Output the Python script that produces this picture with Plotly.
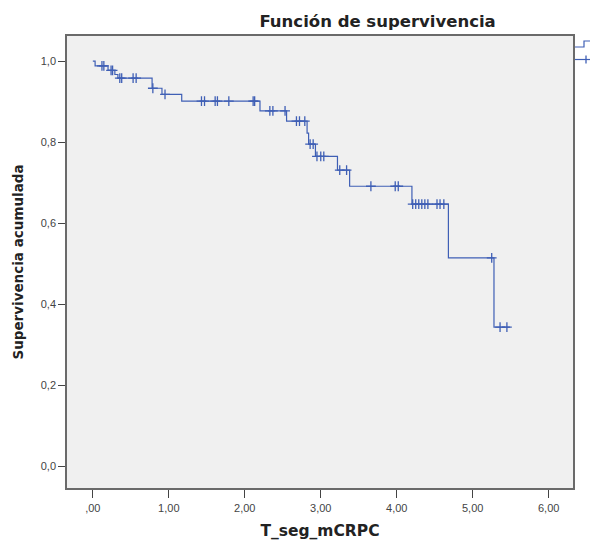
import numpy as np
import plotly.graph_objects as go

# Kaplan-Meier steps (time of event, survival after event)
event_times = [0.03, 0.20, 0.29, 0.33, 0.78, 0.91, 1.17, 2.20, 2.55, 2.82, 2.84,
               2.93, 3.22, 3.38, 4.20, 4.68, 5.28]
surv_values = [0.988, 0.977, 0.967, 0.958, 0.933, 0.918, 0.901, 0.877, 0.852, 0.822,
               0.795, 0.765, 0.731, 0.691, 0.647, 0.514, 0.343]
censor_times = [0.12, 0.145, 0.24, 0.26, 0.355, 0.38, 0.53, 0.57, 0.79, 0.95,
                1.43, 1.47, 1.61, 1.64, 1.79, 2.11, 2.13, 2.33, 2.37, 2.53,
                2.68, 2.72, 2.79, 2.86, 2.90, 2.95, 3.00, 3.04, 3.25, 3.34,
                3.66, 3.98, 4.02, 4.21, 4.25, 4.29, 4.33, 4.37, 4.41, 4.53,
                4.57, 4.62, 5.25, 5.36, 5.45]
end_time = 5.49

x_ticks = [0, 1, 2, 3, 4, 5, 6]
x_tick_labels = [",00", "1,00", "2,00", "3,00", "4,00", "5,00", "6,00"]
y_ticks = [0.0, 0.2, 0.4, 0.6, 0.8, 1.0]
y_tick_labels = ["0,0", "0,2", "0,4", "0,6", "0,8", "1,0"]

blue = "#3f5fb5"

step_x = [0.0] + event_times + [end_time]
step_y = [1.0] + surv_values + [surv_values[-1]]

ev = np.array(event_times)
sv = np.array([1.0] + surv_values)
cens_y = [sv[np.searchsorted(ev, t, side="right")] for t in censor_times]

marker_style = dict(symbol="cross-thin", size=7, line=dict(color=blue, width=1.3))

fig = go.Figure()
fig.add_trace(go.Scatter(
    x=step_x, y=step_y, mode="lines", line=dict(color=blue, width=1.2, shape="hv"),
    name="Función de supervivencia"))
fig.add_trace(go.Scatter(
    x=censor_times, y=cens_y, mode="markers", marker=marker_style,
    name="Censurado"))

# Legend keys (the legend itself lies beyond the right edge of the picture)
W, H = 590, 540
ML, MR, MT, MB = 67, 17, 36, 52
pw, ph = W - ML - MR, H - MT - MB


def px(x):
    return (x - ML) / pw


def py(y):
    return 1 - (y - MT) / ph


fig.add_shape(type="path", xref="paper", yref="paper",
              path=f"M {px(575)},{py(47)} L {px(584)},{py(47)} L {px(584)},{py(41)} L {px(592)},{py(41)}",
              line=dict(color=blue, width=1.2))
fig.add_shape(type="line", xref="paper", yref="paper",
              x0=px(575), x1=px(592), y0=py(59.5), y1=py(59.5),
              line=dict(color=blue, width=1.2))
fig.add_shape(type="line", xref="paper", yref="paper",
              x0=px(586), x1=px(586), y0=py(55.5), y1=py(63.5),
              line=dict(color=blue, width=1.3))

title_font = "DejaVu Sans, Verdana, sans-serif"
axis_font = dict(family="Liberation Sans, Arial, sans-serif", size=11, color="#444444")

fig.update_layout(
    width=W, height=H,
    margin=dict(l=ML, r=MR, t=MT, b=MB),
    paper_bgcolor="white",
    plot_bgcolor="#f0f0f0",
    showlegend=False,
    title=dict(text="<b>Función de supervivencia</b>", x=0.64, xanchor="center",
               y=0.96, yanchor="middle",
               font=dict(family=title_font, size=16.5, color="#222222")),
    xaxis=dict(range=[-0.34, 6.32], tickvals=x_ticks, ticktext=x_tick_labels,
               automargin=False,
               showgrid=False, zeroline=False, showline=True, mirror=True,
               linecolor="#6a6a6a", linewidth=1.5, ticks="outside", ticklen=8,
               tickcolor="#444444", tickfont=axis_font, ticklabelstandoff=1,
               title=dict(text="<b>T_seg_mCRPC</b>", standoff=16,
                          font=dict(family=title_font, size=15.5, color="#222222"))),
    yaxis=dict(range=[-0.054, 1.062], tickvals=y_ticks, ticktext=y_tick_labels,
               automargin=False,
               showgrid=False, zeroline=False, showline=True, mirror=True,
               linecolor="#6a6a6a", linewidth=1.5, ticks="outside", ticklen=7,
               tickcolor="#444444", tickfont=axis_font,
               title=dict(text="<b>Supervivencia acumulada</b>", standoff=14,
                          font=dict(family=title_font, size=13.5, color="#222222"))),
)

fig.write_html("out.html")
